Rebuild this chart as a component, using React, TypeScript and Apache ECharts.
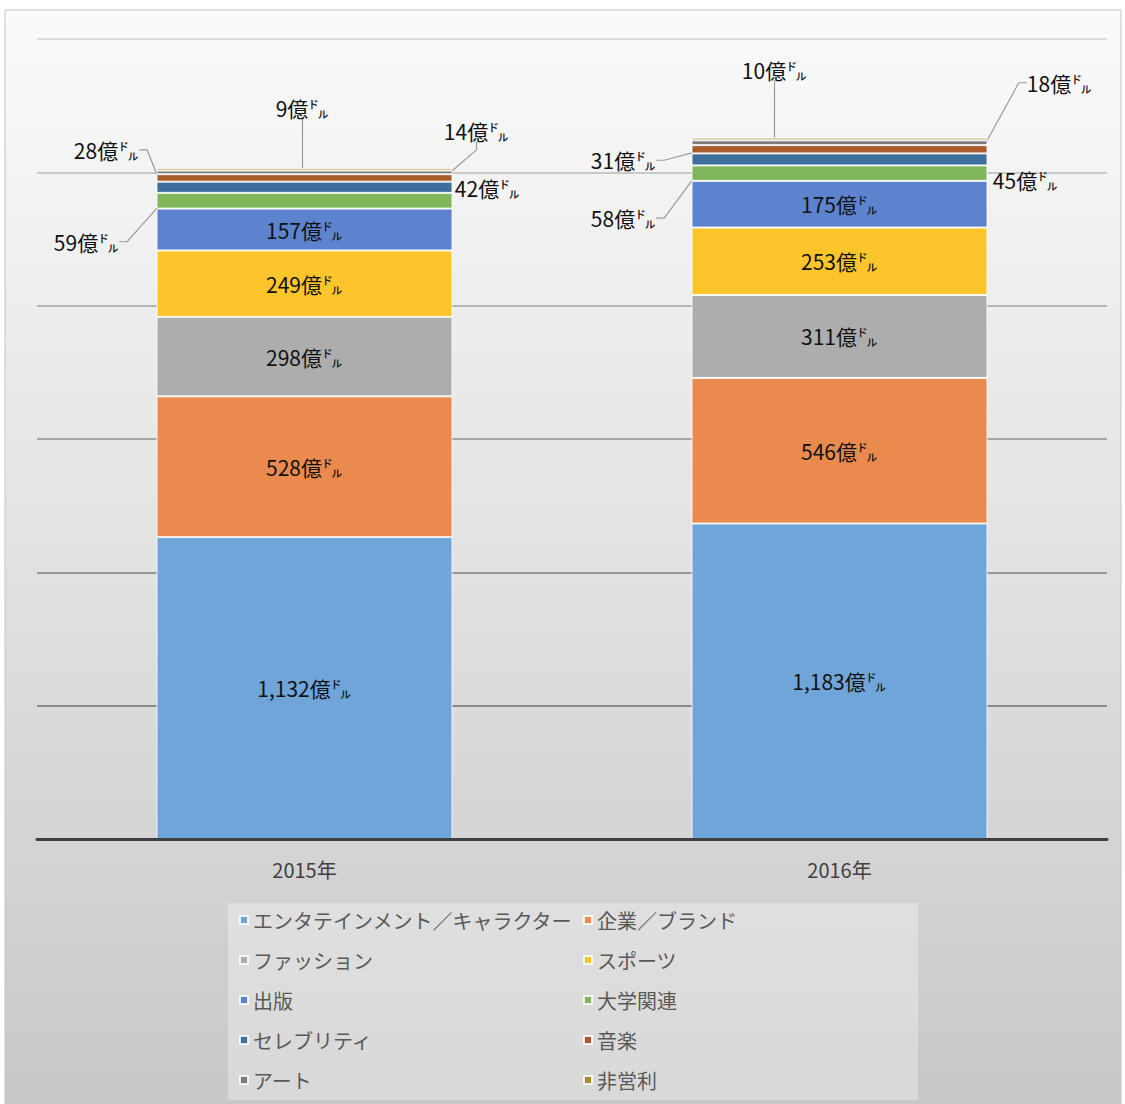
import React, { useEffect, useRef } from 'react';
import * as echarts from 'echarts';

const categories = ['2015年', '2016年'];
const seriesNames = [
  'エンタテインメント／キャラクター',
  '企業／ブランド',
  'ファッション',
  'スポーツ',
  '出版',
  '大学関連',
  'セレブリティ',
  '音楽',
  'アート',
  '非営利',
];
const entertainment = [1132, 1183];
const corporate = [528, 546];
const fashion = [298, 311];
const sports = [249, 253];
const publishing = [157, 175];
const college = [59, 58];
const celebrity = [42, 45];
const music = [28, 31];
const art = [14, 18];
const nonprofit = [9, 10];
const seriesValues = [entertainment, corporate, fashion, sports, publishing, college, celebrity, music, art, nonprofit];
const colors = ['#6FA5D8', '#EB8A4F', '#ADADAD', '#FCC52C', '#5D83CE', '#81B75C', '#3F6F9C', '#A85B2B', '#7C7C7C', '#A88A2E'];
const yMin = 0;
const yMax = 3000;
const yInterval = 500;
const unit = '億㌦';

// label offsets (dx, dy) for small segments, per series index, per category
const labelOffsets: Record<number, [number, number][]> = {
  5: [[-218, 41], [-216, 45]],
  6: [[183, 1], [186, 21]],
  7: [[-198, -28], [-216, 11]],
  8: [[172, -41], [220, -60]],
  9: [[-2, -61], [-65, -69]],
};
const leaderLines: Record<number, boolean[]> = {
  5: [true, true],
  6: [false, false],
  7: [true, true],
  8: [true, true],
  9: [true, true],
};

const FONT = "'Noto Sans CJK JP', 'Noto Sans', sans-serif";

export default function App() {
  const ref = useRef<HTMLDivElement>(null);
  useEffect(() => {
    document.body.style.margin = '0';
    const chart = echarts.init(ref.current!, null, { renderer: 'svg' });
    const series = seriesNames.map((name, si) => ({
      name,
      type: 'bar',
      stack: 'total',
      barWidth: 296,
      itemStyle: { color: colors[si], borderColor: 'rgba(255,255,255,0.85)', borderWidth: 1 },
      label: {
        show: true,
        position: 'inside',
        fontSize: 21,
        color: '#111',
        fontFamily: FONT,
        formatter: (p: any) => Number(p.value).toLocaleString('en-US') + unit,
      },
      labelLine: {
        show: false,
        length2: 8,
        minTurnAngle: 90,
        lineStyle: { color: '#9a9a9a', width: 1.2 },
      },
      labelLayout: (params: any) => {
        const o = labelOffsets[params.seriesIndex]?.[params.dataIndex];
        return o ? { dx: o[0], dy: o[1] } : {};
      },
      data: seriesValues[si].map((v, ci) => ({
        value: v,
        labelLine: { show: !!leaderLines[si]?.[ci] },
      })),
    }));
    const legendBase = {
      orient: 'vertical',
      top: 902,
      itemGap: 14,
      itemWidth: 8,
      itemHeight: 8,
      icon: 'rect',
      selectedMode: false,
      textStyle: { fontSize: 20, color: '#595959', fontFamily: FONT, lineHeight: 26 },
    };
    chart.setOption({
      animation: false,
      textStyle: { fontFamily: FONT },
      graphic: [
        {
          type: 'rect',
          z: -100,
          shape: { x: 5, y: 10, width: 1116, height: 1094 },
          style: {
            fill: new echarts.graphic.LinearGradient(0, 0, 0, 1, [
              { offset: 0, color: '#fbfbfb' },
              { offset: 0.5, color: '#e2e2e2' },
              { offset: 1, color: '#c8c8c8' },
            ]),
            stroke: '#c4c4c4',
            lineWidth: 1,
          },
        },
        {
          type: 'rect',
          z: -99,
          shape: { x: 228, y: 903, width: 690, height: 197 },
          style: { fill: 'rgba(255,255,255,0.3)' },
        },
      ],
      grid: { left: 37, right: 18, top: 39, bottom: 265, containLabel: false },
      legend: [
        { ...legendBase, left: 234, data: seriesNames.filter((_, i) => i % 2 === 0) },
        { ...legendBase, left: 578, data: seriesNames.filter((_, i) => i % 2 === 1) },
      ],
      xAxis: {
        type: 'category',
        data: categories,
        z: 3,
        axisLine: { show: true, lineStyle: { color: '#404040', width: 3 } },
        axisTick: { show: false },
        axisLabel: { fontSize: 20, color: '#404040', margin: 20, fontFamily: FONT },
      },
      yAxis: {
        type: 'value',
        min: yMin,
        max: yMax,
        interval: yInterval,
        axisLine: { show: false },
        axisTick: { show: false },
        axisLabel: { show: false },
        splitLine: {
          show: true,
          lineStyle: {
            width: 2,
            color: ['#808080', '#8a8a8a', '#979797', '#a5a5a5', '#b5b5b5', '#c8c8c8', '#dcdcdc'],
          },
        },
      },
      series,
    });
    return () => chart.dispose();
  }, []);
  return <div ref={ref} style={{ width: 1125, height: 1104 }} />;
}
